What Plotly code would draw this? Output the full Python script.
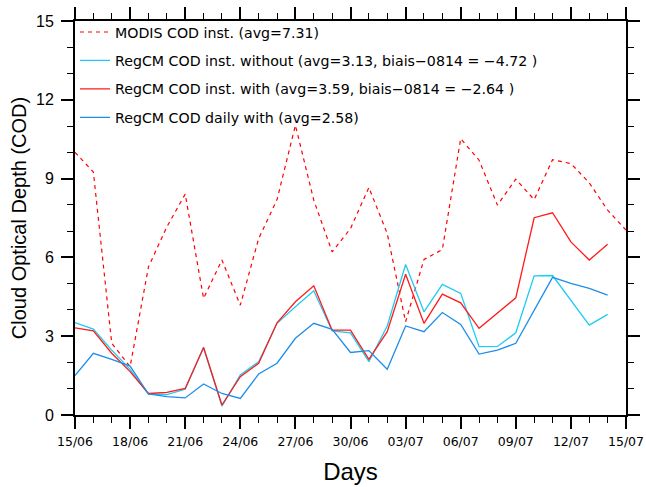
import pandas as pd
import plotly.graph_objects as go

# Daily dates, 15 June to 15 July
days = pd.date_range("2014-06-15", "2014-07-15", freq="D")

# MODIS instantaneous cloud optical depth (31 days)
modis_inst = [10.0, 9.25, 2.73, 1.84, 5.64, 7.16, 8.41, 4.44, 5.90, 4.18,
              6.72, 8.20, 11.03, 8.18, 6.21, 7.10, 8.66, 6.91, 3.55, 5.92,
              6.30, 10.52, 9.70, 7.99, 8.98, 8.20, 9.72, 9.57, 8.84, 7.80,
              7.04]

# RegCM instantaneous COD without aerosol feedback (30 days)
regcm_inst_without = [3.52, 3.27, 2.47, 1.74, 0.80, 0.78, 0.98, 2.57, 0.34, 1.52,
                      2.03, 3.49, 4.12, 4.73, 3.20, 3.13, 2.03, 3.39, 5.73, 3.93,
                      4.97, 4.63, 2.60, 2.61, 3.13, 5.30, 5.31, 4.37, 3.42, 3.83]

# RegCM instantaneous COD with aerosol feedback (30 days)
regcm_inst_with = [3.32, 3.20, 2.35, 1.65, 0.82, 0.86, 1.01, 2.57, 0.38, 1.46,
                   1.97, 3.51, 4.31, 4.92, 3.23, 3.23, 2.12, 3.17, 5.36, 3.49,
                   4.60, 4.27, 3.30, 3.89, 4.46, 7.51, 7.70, 6.59, 5.90, 6.50]

# RegCM daily-mean COD with aerosol feedback (30 days)
regcm_daily_with = [1.50, 2.35, 2.12, 1.86, 0.80, 0.70, 0.65, 1.18, 0.82, 0.63,
                    1.56, 1.97, 2.92, 3.49, 3.26, 2.38, 2.45, 1.74, 3.39, 3.17,
                    3.90, 3.45, 2.32, 2.47, 2.73, 3.99, 5.24, 5.01, 4.82, 4.56]

series_names = [
    "MODIS COD inst. (avg=7.31)",
    "RegCM COD inst. without (avg=3.13, biais\u22120814 = \u22124.72 )",
    "RegCM COD inst. with (avg=3.59, biais\u22120814 = \u22122.64 )",
    "RegCM COD daily with (avg=2.58)",
]

y_ticks = [0, 3, 6, 9, 12, 15]

fig = go.Figure()
fig.add_trace(go.Scatter(x=days, y=modis_inst, mode="lines", name=series_names[0],
                         legendgroup="a",
                         line=dict(color="#FF0000", width=1.2, dash="4px,4px")))
fig.add_trace(go.Scatter(x=days[:30], y=regcm_inst_without, mode="lines", name=series_names[1],
                         legendgroup="b",
                         line=dict(color="#1ECBF2", width=1.3)))
fig.add_trace(go.Scatter(x=days[:30], y=regcm_inst_with, mode="lines", name=series_names[2],
                         legendgroup="c",
                         line=dict(color="#FF1A1A", width=1.3)))
fig.add_trace(go.Scatter(x=days[:30], y=regcm_daily_with, mode="lines", name=series_names[3],
                         legendgroup="d",
                         line=dict(color="#1E8EE8", width=1.3)))

axis_common = dict(
    showline=True, linecolor="black", linewidth=2, mirror="allticks",
    ticks="outside", ticklen=12, tickwidth=1.6, tickcolor="black",
    showgrid=False, zeroline=False,
)

fig.update_xaxes(
    **axis_common,
    range=[days[0], days[-1]],
    tickmode="linear", tick0=days[0], dtick=3 * 86400000,
    tickformat="%d/%m",
    tickfont=dict(family="DejaVu Sans", size=12.5, color="black"),
    ticklabelstandoff=2,
    minor=dict(ticks="outside", ticklen=6, tickwidth=1.2, tickcolor="black",
               dtick=86400000, tick0=days[0], showgrid=False),
    title=dict(text="Days", font=dict(family="Liberation Sans", size=24, color="black"),
               standoff=15),
    automargin=False,
)

fig.update_yaxes(
    **axis_common,
    range=[0, 15],
    tickmode="array", tickvals=y_ticks, ticktext=[str(v) for v in y_ticks],
    tickfont=dict(family="Liberation Sans", size=16, color="black"),
    ticklabelstandoff=4,
    minor=dict(ticks="outside", ticklen=6, tickwidth=1.2, tickcolor="black",
               dtick=1, tick0=0, showgrid=False),
    title=dict(text="Cloud Optical Depth (COD)",
               font=dict(family="Liberation Sans", size=20, color="black"),
               standoff=4),
    automargin=False,
)

fig.update_layout(
    width=646, height=487,
    margin=dict(l=75, r=20, t=21, b=72),
    paper_bgcolor="white", plot_bgcolor="white",
    showlegend=True,
    legend=dict(
        x=0.0, y=1.012, xanchor="left", yanchor="top",
        bgcolor="rgba(0,0,0,0)", borderwidth=0,
        font=dict(family="DejaVu Sans", size=14.2, color="black"),
        tracegroupgap=7, itemwidth=30,
    ),
)

fig.write_html("out.html")
